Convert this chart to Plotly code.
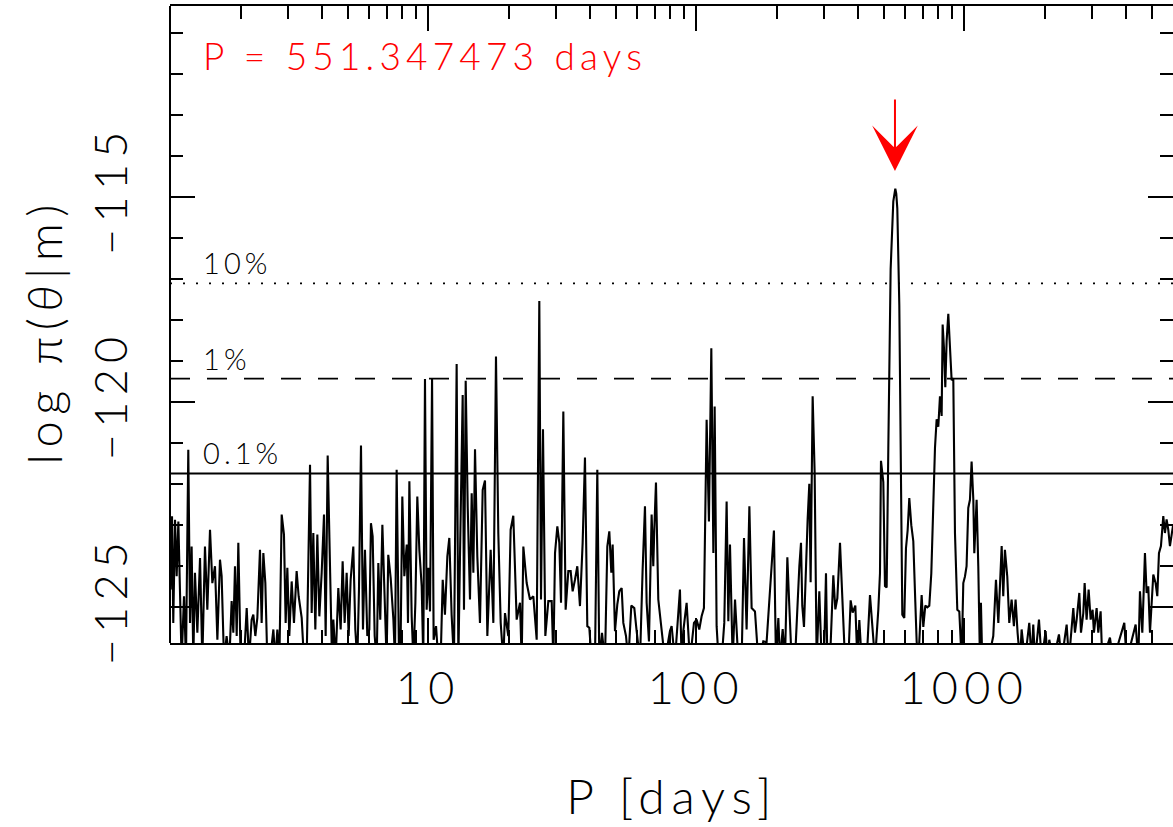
import plotly.graph_objects as go
import math

# ---- data: period (days) and log posterior ----
P_DAYS = [1.08, 1.093, 1.106, 1.118, 1.135, 1.151, 1.168, 1.185, 1.201, 1.226, 1.247, 1.272, 1.291, 1.309, 1.328, 1.347, 1.375, 1.407, 1.435, 1.468, 1.498, 1.533, 1.564, 1.600, 1.633, 1.670, 1.694, 1.729, 1.768, 1.810, 1.846, 1.873, 1.900, 1.928, 1.955, 1.995, 2.052, 2.101, 2.143, 2.192, 2.224, 2.263, 2.302, 2.355, 2.389, 2.424, 2.466, 2.508, 2.567, 2.642, 2.687, 2.734, 2.782, 2.838, 2.894, 2.936, 2.979, 3.030, 3.092, 3.154, 3.227, 3.283, 3.370, 3.438, 3.517, 3.620, 3.672, 3.724, 3.789, 3.855, 3.922, 4.001, 4.082, 4.141, 4.213, 4.298, 4.373, 4.423, 4.512, 4.616, 4.710, 4.791, 4.875, 4.959, 5.045, 5.132, 5.251, 5.342, 5.435, 5.513, 5.609, 5.705, 5.804, 5.922, 6.026,
          6.11, 6.20, 6.31, 6.42, 6.51, 6.62, 6.74, 6.90, 6.99, 7.09, 7.24, 7.41, 7.51, 7.62, 7.78, 7.89, 8.00, 8.14, 8.31, 8.40, 8.50, 8.67, 8.80, 8.95, 9.10, 9.26, 9.45, 9.58, 9.72, 9.86, 10.00, 10.15, 10.33, 10.47, 10.69, 10.90, 11.12, 11.32, 11.54, 11.78, 11.98, 12.22, 12.47, 12.76, 12.95, 13.13, 13.44, 13.59, 13.79, 14.03, 14.31, 14.52, 14.73, 14.94, 15.24, 15.59, 15.96, 16.28, 16.61, 17.09, 17.49, 17.89, 18.25, 18.63, 19.05, 19.33, 19.89, 20.29, 20.76, 21.37, 21.99, 22.31, 22.63, 23.29, 23.96, 24.66, 25.38, 25.96, 26.34, 26.79, 27.34, 28.05, 28.87, 29.29, 29.71, 30.31, 30.83, 31.28, 31.91, 32.55, 33.31,
          33.98, 34.57, 35.27, 35.98, 36.81, 37.67, 38.43, 39.21, 39.89, 40.69, 41.88, 42.73, 43.47, 44.48, 45.64, 46.56, 47.37, 48.19, 48.75, 49.74, 50.74, 51.62, 52.67, 53.43, 54.67, 55.78, 57.23, 58.72, 59.91, 61.65, 63.07, 64.35, 65.28, 66.60, 68.14, 69.12, 69.72, 70.73, 72.16, 74.25, 76.41, 79.76, 80.91, 83.26, 86.91, 88.17, 89.44, 92.04, 94.73, 98.04, 100.3, 102.6, 104.7, 106.8, 109.3, 111.5, 113.8, 115.8, 117.1, 119.1, 121.2, 124.3, 127.2, 129.8, 131.7, 133.6, 136.7, 139.5, 143.5, 147.7, 150.7, 154.1, 157.8, 160.9, 165.6, 170.4, 177.9, 183.0,
          188.4, 194.9, 198.3, 202.4, 205.3, 210.1, 214.3, 218.7, 222.4, 226.9, 233.5, 236.9, 242.4, 245.9, 248.6, 252.3, 256.6, 260.3, 264.1, 267.1, 271.8, 276.5, 281.3, 287.8, 293.6, 299.5, 304.8, 308.3, 315.5, 324.6, 330.3, 336.0, 343.8, 350.8, 358.9, 369.3, 376.7, 383.3, 392.2, 399.0, 405.9, 414.1, 432.3, 444.8, 452.5, 464.4, 477.9, 484.7, 488.9, 498.8, 506.0, 513.3, 520.7, 531.2, 543.5, 548.0, 552.9, 557.5, 562.5, 572.3, 580.5, 587.2, 597.3, 606.0, 614.7, 623.6, 634.4, 645.4, 656.6, 664.2, 673.8, 683.5, 693.4, 703.3, 715.5, 727.9, 740.5, 753.4, 766.5, 777.5, 788.7, 800.1, 811.6, 823.3, 830.4, 839.9, 849.6, 859.4, 871.8, 884.3, 897.1,
          910.0, 923.2, 941.9, 958.2, 977.5, 991.7, 1006, 1020, 1035, 1050, 1065, 1081, 1090, 1112, 1128, 1144, 1154, 1167, 1229, 1283, 1313, 1340, 1379, 1398, 1418, 1447, 1472, 1502, 1532, 1554, 1581, 1614, 1637, 1684, 1748, 1784, 1809, 1836, 1900, 1944, 2012, 2047, 2076, 2149, 2256, 2308, 2410, 2459, 2494, 2552, 2588, 2626, 2687, 2726, 2781, 2813, 2861, 2911, 2962, 3012, 3047, 3118, 3163, 3227, 3273, 3496, 3597, 3955, 4035, 4360, 4461, 4525, 4617, 4723, 4791, 4860, 4931, 5002, 5074, 5176, 5251, 5327, 5419, 5529, 5608, 5689, 5771, 5854, 5938, 6007, 6150]

LOG_POST = [-123.5, -124.57, -122.78, -125.38, -122.87, -124.24, -122.91, -125.30, -126.3, -124.73, -126.3, -121.16, -125.38, -123.52, -126.3, -124.16, -125.62, -123.80, -126.3, -123.52, -125.06, -123.11, -124.41, -124.00, -125.79, -123.84, -124.24, -126.3, -125.70, -126.3, -124.85, -125.62, -124.00, -125.70, -123.43, -126.3, -126.3, -125.02, -126.3, -125.30, -125.18, -125.70, -125.26, -123.60, -125.38, -123.68, -124.41, -126.3, -126.3, -125.54, -126.3, -125.54, -126.3, -122.74, -123.23, -125.38, -124.04, -125.70, -124.37, -125.38, -124.12, -124.73, -125.26, -126.3, -126.3, -121.53, -125.14, -123.19, -125.54, -123.23, -125.22, -124.16, -122.74, -125.70, -121.30, -124.00, -126.3, -125.30, -126.3, -124.53, -125.54, -123.88, -125.38, -124.16, -125.70, -124.33, -123.52, -125.54, -126.3, -124.57, -121.06, -125.54, -123.60, -125.70, -125.54,
            -122.95, -123.27, -125.70, -126.3, -123.92, -125.30, -122.99, -125.46, -126.3, -123.72, -124.29, -125.30, -126.3, -121.65, -126.3, -125.70, -122.30, -124.24, -123.47, -125.38, -121.93, -125.22, -126.3, -124.89, -122.30, -123.60, -124.49, -126.3, -119.44, -125.06, -124.04, -125.10, -119.44, -125.79, -125.46, -126.3, -126.3, -124.33, -125.18, -123.76, -123.31, -125.18, -126.3, -119.07, -126.3, -123.76, -119.83, -125.06, -119.48, -122.54, -124.81, -122.22, -124.16, -121.15, -123.76, -125.38, -122.14, -121.91, -125.70, -123.60, -125.38, -118.89, -123.19, -125.38, -126.3, -125.14, -125.70, -123.11, -122.77, -125.30, -124.89, -126.3, -123.52, -124.41, -124.81, -124.73, -125.79, -117.54, -124.81, -120.66, -125.70, -124.85, -124.85, -126.3, -123.68, -123.03, -123.43, -124.89, -120.23, -125.06, -124.12,
            -124.12, -124.61, -124.33, -124.00, -124.97, -123.43, -121.35, -125.46, -125.50, -126.3, -126.3, -121.65, -126.3, -125.62, -126.3, -123.52, -123.15, -124.16, -123.47, -125.58, -124.93, -124.61, -124.53, -125.38, -125.70, -126.3, -124.96, -125.02, -125.58, -126.3, -124.08, -122.54, -124.89, -125.83, -122.74, -124.00, -123.11, -121.96, -124.81, -125.54, -126.3, -125.58, -125.46, -126.3, -124.57, -126.3, -125.58, -124.89, -126.3, -125.38, -125.30, -125.54, -125.22, -125.02, -120.43, -122.91, -118.69, -123.68, -120.11, -125.46, -126.3, -126.3, -125.38, -122.42, -125.34, -123.47, -126.3, -124.81, -126.3, -126.3, -123.31, -125.54, -122.54, -125.02, -125.10, -126.3, -125.83, -125.85,
            -124.61, -123.13, -126.3, -125.26, -126.3, -125.53, -126.3, -123.78, -124.96, -126.3, -126.3, -125.31, -124.00, -123.43, -124.96, -125.48, -123.74, -122.87, -121.99, -124.39, -119.86, -121.73, -126.3, -124.61, -126.3, -126.3, -124.17, -126.3, -126.3, -124.22, -125.05, -124.78, -123.43, -124.61, -126.3, -126.3, -124.83, -125.13, -124.96, -126.3, -125.31, -126.3, -126.3, -124.70, -125.48, -126.3, -125.05, -124.17, -121.43, -121.95, -124.48, -124.52, -121.12, -116.76, -115.11, -114.88, -114.80, -114.92, -115.28, -117.64, -121.12, -125.18, -125.26, -123.56, -123.13, -122.34, -123.00, -123.39, -124.87, -125.83, -126.3, -125.31, -124.70, -125.48, -124.96, -125.00, -124.96, -124.17, -122.56, -121.12, -120.42, -120.60, -119.86, -120.34, -118.11, -118.68, -119.64, -118.51, -117.85, -118.51, -119.47,
            -119.42, -123.19, -125.06, -125.10, -126.3, -124.41, -124.25, -124.00, -122.58, -122.38, -121.45, -122.38, -123.68, -122.38, -124.00, -126.3, -124.89, -126.3, -126.3, -125.70, -124.33, -125.38, -123.51, -124.73, -123.60, -124.25, -125.38, -124.81, -125.46, -124.81, -125.62, -126.3, -125.54, -126.3, -125.38, -126.3, -125.42, -126.3, -125.30, -126.3, -125.58, -126.3, -125.79, -126.3, -125.66, -126.3, -125.42, -126.3, -125.79, -125.02, -125.62, -125.30, -124.65, -125.62, -125.14, -124.41, -125.30, -124.57, -125.30, -125.06, -125.62, -125.02, -125.62, -125.10, -126.3, -125.74, -126.3, -125.38, -126.3, -125.42, -126.3, -124.61, -125.62, -123.68, -124.65, -124.49, -125.62, -124.97, -124.20, -124.41, -124.73, -123.68, -123.51, -122.78, -123.19, -122.86, -123.11, -123.51, -123.19, -123.02, -123.1]

# significance thresholds
THRESH_LABELS = ["10%", "1%", "0.1%"]
THRESH_VALUES = [-117.11, -119.43, -121.74]
THRESH_DASH = ["2px,11px", "20px,17px", "solid"]

BEST_PERIOD = 551.347473
X_TICKS = [10, 100, 1000]
X_MINOR = [2, 3, 4, 5, 6, 7, 8, 9, 20, 30, 40, 50, 60, 70, 80, 90,
           200, 300, 400, 500, 600, 700, 800, 900, 2000, 3000, 4000, 5000, 6000]
Y_TICKS = [-125, -120, -115]
X_RANGE = [1.087, 6010]
Y_RANGE = [-125.87, -110.35]

FONT = "Lato, 'DejaVu Sans', sans-serif"

fig = go.Figure()
fig.add_trace(go.Scatter(x=P_DAYS, y=LOG_POST, mode="lines",
                         line=dict(color="black", width=2.1),
                         hoverinfo="skip", showlegend=False))

for lab, val, dash in zip(THRESH_LABELS, THRESH_VALUES, THRESH_DASH):
    fig.add_shape(type="line", xref="paper", x0=0, x1=1, yref="y", y0=val, y1=val,
                  line=dict(color="black", width=1.8, dash=dash))
    fig.add_annotation(text=lab, xref="paper", x=0.031, xanchor="left", align="left",
                       yref="y", y=val + 0.50, yanchor="middle", showarrow=False,
                       font=dict(family=FONT, size=29, color="black", weight=300))

# left frame line
fig.add_shape(type="line", xref="paper", yref="paper", x0=0, x1=0, y0=0, y1=1,
              line=dict(color="black", width=2))

fig.add_annotation(text="P = %.6f days" % BEST_PERIOD, xref="paper", x=0.031,
                   xanchor="left", align="left",
                   yref="paper", y=0.922, yanchor="middle", showarrow=False,
                   font=dict(family=FONT, size=37, color="#ff0000", weight=300))

fig.add_annotation(x=math.log10(BEST_PERIOD), y=-114.37, xref="x", yref="y",
                   text="", showarrow=True, ax=0, ay=-73, arrowcolor="#ff0000",
                   arrowwidth=2, arrowhead=3, arrowsize=3.8, standoff=0)

fig.add_annotation(text="P [days]", xref="paper", x=0.5, xanchor="center",
                   yref="paper", y=-0.24, yanchor="middle", showarrow=False,
                   font=dict(family=FONT, size=48, color="black", weight=300))
fig.add_annotation(text="log π(<i>θ</i>|m)", xref="paper", x=-0.126, xanchor="center",
                   yref="paper", y=0.49, yanchor="middle", showarrow=False, textangle=-90,
                   font=dict(family=FONT, size=47, color="black", weight=300))

fig.update_layout(
    width=1173, height=827,
    margin=dict(l=170, r=0, t=6, b=184),
    paper_bgcolor="white", plot_bgcolor="white",
    showlegend=False,
    xaxis=dict(type="log", range=[math.log10(X_RANGE[0]), math.log10(X_RANGE[1])],
               tickmode="array", tickvals=X_TICKS, ticktext=[str(v) for v in X_TICKS],
               ticks="inside", ticklen=25, tickwidth=2, tickcolor="black",
               showline=True, linecolor="black", linewidth=2, mirror="ticks",
               showgrid=False, zeroline=False, ticklabelstandoff=5,
               tickfont=dict(family=FONT, size=45, color="black", weight=300),
               minor=dict(tickmode="array", tickvals=X_MINOR, ticks="inside",
                          ticklen=13, tickwidth=2, tickcolor="black", showgrid=False)),
    yaxis=dict(range=Y_RANGE, tickmode="array", tickvals=Y_TICKS,
               ticks="inside", ticklen=25, tickwidth=2, tickcolor="black",
               showline=False, mirror="ticks", tickangle=-90,
               showgrid=False, zeroline=False, ticklabelstandoff=33,
               tickfont=dict(family=FONT, size=45, color="black", weight=300),
               minor=dict(dtick=1, tick0=0, ticks="inside", ticklen=13,
                          tickwidth=2, tickcolor="black", showgrid=False)),
)

POST = ("document.body.style.margin='0';"
        "document.body.style.overflow='hidden';"
        "document.querySelectorAll('.main-svg text').forEach(function(t){"
        "t.style.letterSpacing='0.14em';});")
fig.write_html("out.html", post_script=POST, config={"displayModeBar": False})
